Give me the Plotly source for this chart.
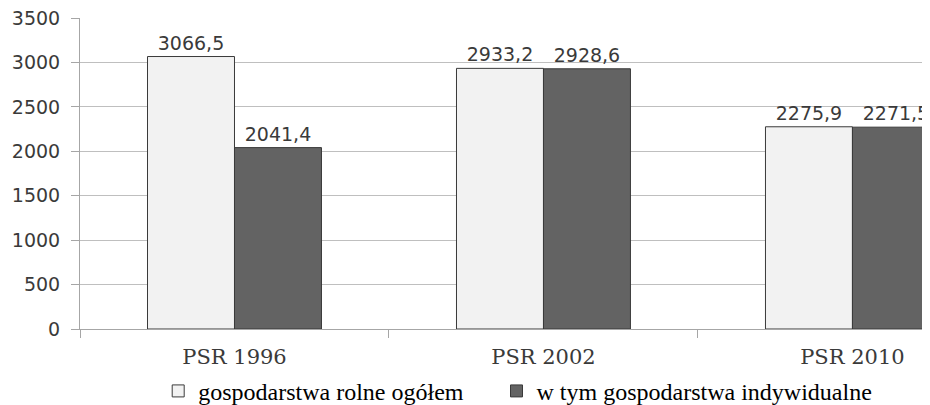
import plotly.graph_objects as go

categories = ["PSR 1996", "PSR 2002", "PSR 2010"]
ogolem = [3066.5, 2933.2, 2275.9]
indywidualne = [2041.4, 2928.6, 2271.5]
series_names = ["gospodarstwa rolne ogółem", "w tym gospodarstwa indywidualne"]
y_ticks = [0, 500, 1000, 1500, 2000, 2500, 3000, 3500]

num_font = dict(family="DejaVu Sans", size=19, color="#3a3a3a")
legend_font = dict(family="Liberation Serif", size=24, color="#000000")

fig = go.Figure()
fig.add_trace(go.Bar(
    x=categories, y=ogolem, name=series_names[0], legend="legend",
    marker=dict(color="#f2f2f2", line=dict(color="#3a3a3a", width=1)),
    texttemplate="%{y:.1f}", textposition="outside", textfont=num_font,
    cliponaxis=False,
))
fig.add_trace(go.Bar(
    x=categories, y=indywidualne, name=series_names[1], legend="legend2",
    marker=dict(color="#636363", line=dict(color="#3a3a3a", width=1)),
    texttemplate="%{y:.1f}", textposition="outside", textfont=num_font,
    cliponaxis=False,
))

fig.update_layout(
    width=930, height=405,
    margin=dict(l=72, r=8, t=10, b=84, autoexpand=False),
    paper_bgcolor="white", plot_bgcolor="white",
    separators=", ",
    barmode="group", bargap=0.437, bargroupgap=0,
    showlegend=True,
    legend=dict(
        orientation="h", x=0.092, xanchor="left", y=-0.128, yanchor="top",
        font=legend_font, itemwidth=30, bgcolor="rgba(0,0,0,0)",
    ),
    legend2=dict(
        orientation="h", x=0.49, xanchor="left", y=-0.128, yanchor="top",
        font=legend_font, itemwidth=30, bgcolor="rgba(0,0,0,0)",
    ),
    xaxis=dict(
        type="category", range=[-0.5, 2.251],
        showline=True, linecolor="#a6a6a6", linewidth=1,
        ticks="outside", ticklen=8, tickcolor="#a6a6a6", tickson="boundaries",
        showgrid=False, ticklabelstandoff=9, ticklabeloverflow="allow",
        tickfont=dict(family="DejaVu Serif", size=21, color="#3a3a3a"),
    ),
    yaxis=dict(
        range=[0, 3500], tickvals=y_ticks,
        showline=True, linecolor="#a6a6a6", linewidth=1,
        ticks="outside", ticklen=8, tickcolor="#a6a6a6",
        showgrid=True, gridcolor="#bfbfbf", gridwidth=1,
        zeroline=False, ticklabelstandoff=7, ticklabeloverflow="allow",
        tickfont=num_font,
    ),
)

fig.write_html("out.html")
